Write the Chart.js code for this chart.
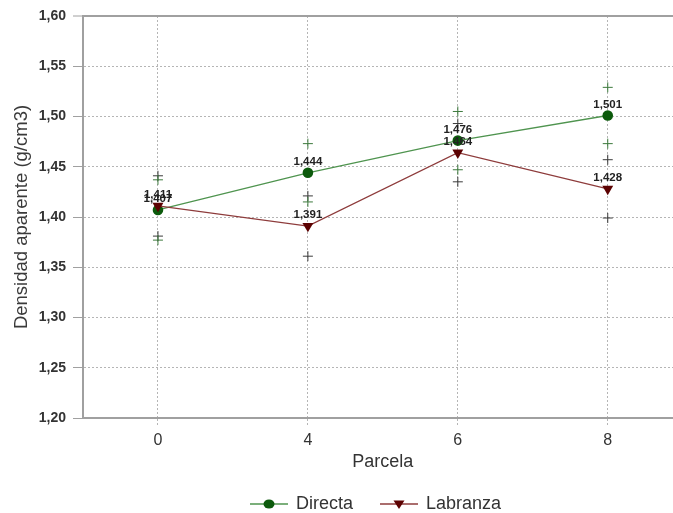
<!DOCTYPE html>
<html><head><meta charset="utf-8">
<script src="https://cdn.jsdelivr.net/npm/chart.js@4/dist/chart.umd.min.js"></script>
<style>html,body{margin:0;padding:0;background:#fff;overflow:hidden}</style>
</head><body>
<canvas id="c" width="689" height="513"></canvas>
<script>
const categories = ['0', '4', '6', '8'];
const directa = [1.407, 1.444, 1.476, 1.501];
const labranza = [1.411, 1.391, 1.464, 1.428];
const directaRep1 = [1.437, 1.473, 1.505, 1.529];
const directaRep2 = [1.377, 1.415, 1.447, 1.473];
const labranzaRep1 = [1.441, 1.421, 1.493, 1.457];
const labranzaRep2 = [1.381, 1.361, 1.435, 1.399];
const yTickValues = [1.20, 1.25, 1.30, 1.35, 1.40, 1.45, 1.50, 1.55, 1.60];
const seriesNames = ['Directa', 'Labranza'];
const xTitle = 'Parcela';
const yTitle = 'Densidad aparente (g/cm3)';

const FONT = "'Liberation Sans', Arial, sans-serif";
const fmt = v => v.toFixed(3).replace('.', ',');
const fmt2 = v => v.toFixed(2).replace('.', ',');

const COL = {
  dLine: '#4f944f', dMark: '#0c5a0c', dCross: '#3d7a3d',
  lLine: '#8e3c3c', lMark: '#5c0202', lCross: '#3a3a3a'
};

function crossDs(data, color) {
  return { type: 'line', data, showLine: false, pointStyle: 'cross', pointRadius: 5,
    pointBorderColor: color, pointBorderWidth: 1, borderColor: color, backgroundColor: color, order: 10, isRep: true };
}

const labelPlugin = {
  id: 'valueLabels',
  afterDatasetsDraw(chart) {
    const ctx = chart.ctx;
    ctx.save();
    ctx.font = 'bold 11.5px ' + FONT;
    ctx.fillStyle = '#222';
    ctx.textAlign = 'center';
    ctx.textBaseline = 'middle';
    chart.data.datasets.forEach((ds, i) => {
      if (ds.isRep) return;
      const meta = chart.getDatasetMeta(i);
      meta.data.forEach((pt, j) => {
        ctx.fillText(fmt(ds.data[j]), pt.x, pt.y - 11);
      });
    });
    ctx.restore();
  }
};

const legendPlugin = {
  id: 'customLegend',
  afterDraw(chart) {
    const ctx = chart.ctx;
    const y = 504;
    const items = [
      { name: seriesNames[0], x0: 250, len: 38, line: COL.dLine, mark: COL.dMark, shape: 'circle', tx: 296 },
      { name: seriesNames[1], x0: 380, len: 38, line: COL.lLine, mark: COL.lMark, shape: 'tri', tx: 426 }
    ];
    ctx.save();
    items.forEach(it => {
      ctx.strokeStyle = it.line; ctx.lineWidth = 1.5;
      ctx.beginPath(); ctx.moveTo(it.x0, y); ctx.lineTo(it.x0 + it.len, y); ctx.stroke();
      const cx = it.x0 + it.len / 2;
      ctx.fillStyle = it.mark;
      ctx.beginPath();
      if (it.shape === 'circle') {
        ctx.ellipse(cx, y, 5.5, 4.5, 0, 0, Math.PI * 2);
      } else {
        ctx.moveTo(cx - 5.5, y - 3.5); ctx.lineTo(cx + 5.5, y - 3.5); ctx.lineTo(cx, y + 5); ctx.closePath();
      }
      ctx.fill();
      ctx.fillStyle = '#333';
      ctx.font = '18px ' + FONT;
      ctx.textAlign = 'left'; ctx.textBaseline = 'middle';
      ctx.fillText(it.name, it.tx, y);
    });
    ctx.restore();
  }
};

new Chart(document.getElementById('c'), {
  type: 'line',
  data: {
    labels: categories,
    datasets: [
      { label: seriesNames[1], data: labranza, borderColor: COL.lLine, borderWidth: 1.3,
        pointStyle: 'triangle', rotation: 180, pointRadius: 6.3, pointBackgroundColor: COL.lMark,
        pointBorderColor: COL.lMark, pointBorderWidth: 0, order: 1, tension: 0, fill: false },
      { label: seriesNames[0], data: directa, borderColor: COL.dLine, borderWidth: 1.3,
        pointStyle: 'circle', pointRadius: 5.3, pointBackgroundColor: COL.dMark,
        pointBorderColor: COL.dMark, pointBorderWidth: 0, order: 2, tension: 0, fill: false },
      crossDs(directaRep1, COL.dCross),
      crossDs(directaRep2, COL.dCross),
      crossDs(labranzaRep1, COL.lCross),
      crossDs(labranzaRep2, COL.lCross)
    ]
  },
  options: {
    responsive: false,
    animation: false,
    layout: { padding: { top: 16, left: 0, right: 0, bottom: 0 } },
    plugins: { legend: { display: false }, tooltip: { enabled: false } },
    scales: {
      x: {
        type: 'category', offset: true,
        grid: { offset: false, color: '#b5b5b5', lineWidth: 1, tickLength: 8, tickColor: '#b5b5b5', tickBorderDash: [2, 2] },
        border: { display: true, color: '#a0a0a0', width: 2, dash: [2, 2] },
        ticks: { color: '#333', font: { family: FONT, size: 16 }, padding: 5 },
        title: { display: true, text: xTitle, color: '#333', font: { family: FONT, size: 18 }, padding: { top: 4, bottom: 40 } },
        afterFit(s) { s.height = 95; }
      },
      y: {
        min: 1.2, max: 1.6,
        afterBuildTicks(s) { s.ticks = yTickValues.map(v => ({ value: v })); },
        grid: {
          color: c => (c.tick && Math.abs(c.tick.value - 1.6) < 1e-9) ? '#a0a0a0' : '#b5b5b5',
          lineWidth: c => (c.tick && Math.abs(c.tick.value - 1.6) < 1e-9) ? 2 : 1,
          tickLength: 10, tickColor: '#a0a0a0', tickWidth: 1, tickBorderDash: []
        },
        border: { display: true, color: '#a0a0a0', width: 2,
          dash: c => (c.tick && Math.abs(c.tick.value - 1.6) < 1e-9) ? [] : [2, 2] },
        ticks: { color: '#333', font: { family: FONT, size: 14, weight: 'bold' }, padding: 7,
          callback: v => fmt2(v) },
        title: { display: true, text: yTitle, color: '#3a3a3a', font: { family: FONT, size: 18.5 }, padding: { top: 11, bottom: 0 } },
        afterFit(s) { s.width = 83; }
      }
    }
  },
  plugins: [labelPlugin, legendPlugin]
});
</script>
</body></html>
